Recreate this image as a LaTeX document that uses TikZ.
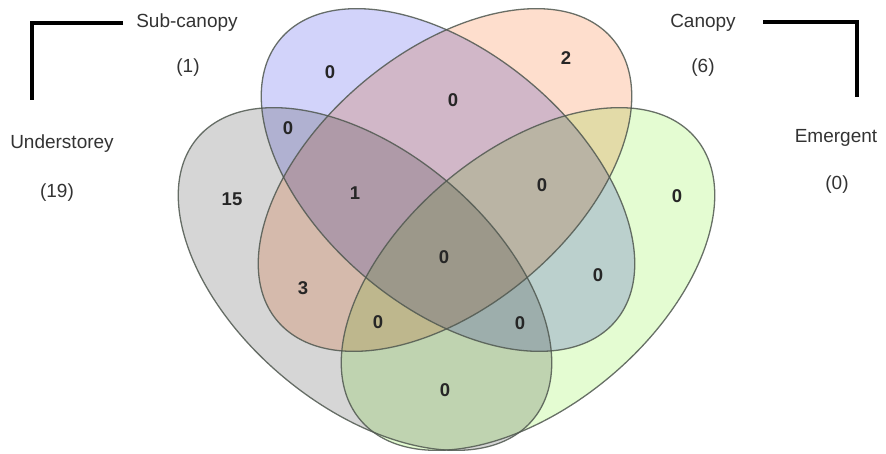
\documentclass[tikz,border=0pt]{standalone}
\usepackage{fontspec}
\setmainfont{Liberation Sans}
\definecolor{ugray}{RGB}{214,214,214}
\definecolor{sblue}{RGB}{210,211,250}
\definecolor{corange}{RGB}{254,222,205}
\definecolor{egreen}{RGB}{228,252,210}
\definecolor{edge}{RGB}{80,88,80}
\tikzset{
  setfill/.style={fill=#1, blend mode=multiply},
  setline/.style={draw=edge, line width=1.3pt, draw opacity=0.85},
  count/.style={font=\fontsize{18.5}{20}\selectfont\bfseries, text=black!85, inner sep=0pt},
  setname/.style={font=\fontsize{19}{21}\selectfont, text=black!80, inner sep=0pt},
  bracket/.style={line width=3.6pt, line cap=butt, black}
}
\begin{document}
\begin{tikzpicture}[x=1pt, y=-1pt]
\useasboundingbox (0,0) rectangle (886,453);
% ellipses: Understorey, Sub-canopy, Canopy, Emergent
\fill[setfill=ugray, rotate around={-40:(365,279)}] (365,279) ellipse (219pt and 127.5pt);
\fill[setfill=sblue, rotate around={-40:(448,180)}] (448,180) ellipse (219pt and 127.5pt);
\fill[setfill=corange, rotate around={40:(445,180)}] (445,180) ellipse (219pt and 127.5pt);
\fill[setfill=egreen, rotate around={40:(528,279)}] (528,279) ellipse (219pt and 127.5pt);
\draw[setline, rotate around={-40:(365,279)}] (365,279) ellipse (219pt and 127.5pt);
\draw[setline, rotate around={-40:(448,180)}] (448,180) ellipse (219pt and 127.5pt);
\draw[setline, rotate around={40:(445,180)}] (445,180) ellipse (219pt and 127.5pt);
\draw[setline, rotate around={40:(528,279)}] (528,279) ellipse (219pt and 127.5pt);
% region counts
\node[count] (s)    at (330,72)  {0};
\node[count] (c)    at (566,58)  {2};
\node[count] (u)    at (232,199) {15};
\node[count] (e)    at (677,196) {0};
\node[count] (sc)   at (453,100) {0};
\node[count] (us)   at (288,128) {0};
\node[count] (usc)  at (355,193) {1};
\node[count] (sce)  at (542,185) {0};
\node[count] (all)  at (444,257) {0};
\node[count] (uc)   at (303,288) {3};
\node[count] (se)   at (598,275) {0};
\node[count] (uce)  at (378,322) {0};
\node[count] (use)  at (520,323) {0};
\node[count] (ue)   at (445,390) {0};
% set names
\node[setname] (subn) at (187,23)  {Sub-canopy};
\node[setname] (subc) at (188,68)  {(1)};
\node[setname] (undn) at (62,144)  {Understorey};
\node[setname] (undc) at (57,193)  {(19)};
\node[setname] (canx) at (703,23)  {Canopy};
\node[setname] (canc) at (703,68)  {(6)};
\node[setname] (emgn) at (836,138) {Emergent};
\node[setname] (emgc) at (837,185) {(0)};
% brackets
\coordinate (b1a) at (123,23);
\coordinate (b1b) at (32,23);
\coordinate (b1c) at (32,100);
\coordinate (b2a) at (763,22);
\coordinate (b2b) at (857,22);
\coordinate (b2c) at (857,97);
\draw[bracket] (b1a) -- (b1b) -- (b1c);
\draw[bracket] (b2a) -- (b2b) -- (b2c);
\end{tikzpicture}
\end{document}
